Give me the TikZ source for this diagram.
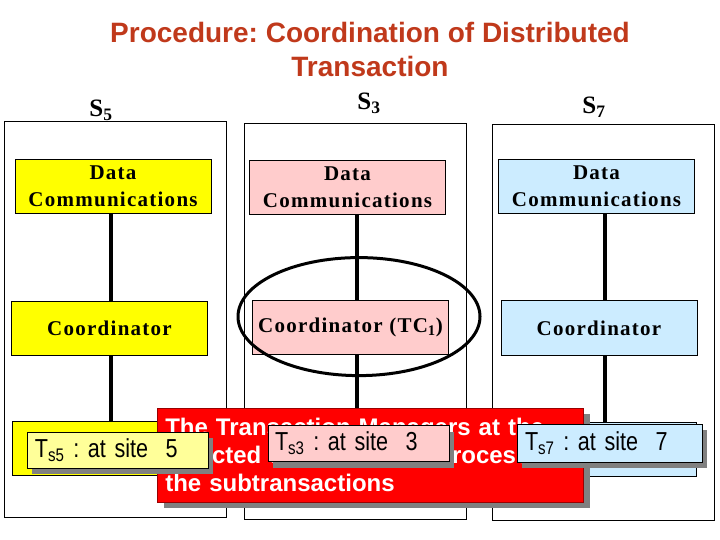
\documentclass[tikz,border=0pt]{standalone}
\usepackage{fontspec}
\setmainfont{Liberation Serif}
\newfontfamily\arialfont{Liberation Sans}
\newfontfamily\narrowfont[FakeStretch=0.83]{Liberation Sans}
\newfontfamily\boxfont[LetterSpace=6]{Liberation Serif}
\usetikzlibrary{positioning,shadows}
\definecolor{titlered}{HTML}{C0391B}
\definecolor{siteyellow}{HTML}{FFFF00}
\definecolor{paleyellow}{HTML}{FFFF99}
\definecolor{palepink}{HTML}{FFCCCC}
\definecolor{paleblue}{HTML}{CCECFF}
\definecolor{shadowgrey}{HTML}{808080}
\frenchspacing

\begin{document}
\begin{tikzpicture}[x=1bp,y=-1bp,
			site/.style={draw=black,fill=white,line width=0.8bp,minimum width=222bp,minimum height=396bp,inner sep=0pt},
			sitelabel/.style={inner sep=0pt,font=\bfseries\fontsize{25bp}{25bp}\selectfont},
			comm/.style={draw=black,line width=0.6bp,minimum width=196bp,minimum height=54bp,inner sep=0pt,align=center,font=\boxfont\bfseries\fontsize{21bp}{27bp}\selectfont},
			tm/.style={draw=black,line width=0.6bp,minimum width=195bp,minimum height=54bp,inner sep=0pt},
			tsbox/.style={draw=black,line width=0.6bp,minimum height=36bp,inner xsep=8bp,inner ysep=0pt,align=left,font=\narrowfont\fontsize{26bp}{28bp}\selectfont,
				drop shadow={shadow xshift=5bp,shadow yshift=-6bp,fill=shadowgrey,opacity=1}},
			note/.style={draw=red!60!black,line width=0.6bp,fill=red,text=white,inner xsep=8bp,inner ysep=0pt,text width=410bp,minimum height=94bp,align=left,
				font=\arialfont\bfseries\fontsize{24bp}{28bp}\selectfont,
				drop shadow={shadow xshift=7bp,shadow yshift=-6bp,fill=shadowgrey,opacity=1}},
			link/.style={line width=3.5bp},
			ring/.style={line width=3bp}
			]
			\useasboundingbox (0,0) rectangle (720,540);
			\node[font=\arialfont\bfseries\fontsize{28bp}{34bp}\selectfont,text=titlered,align=center] (title) at (370,49) {Procedure: Coordination of Distributed\\ Transaction};
			% the three sites
			\node[site] (site5) at (115,319.5) {};
			\node[site] (site3) at (355,321) {};
			\node[site] (site7) at (603.5,322) {};
			\node[sitelabel] (lab5) at (101,110) {S\textsubscript{5}};
			\node[sitelabel] (lab3) at (369,103) {S\textsubscript{3}};
			\node[sitelabel] (lab7) at (594,107) {S\textsubscript{7}};
			% data communications and coordinators
			\node[comm,fill=siteyellow] (dc5) at (113,186) {Data\\ Communications};
			\node[comm,fill=palepink] (dc3) at (347.5,187) {Data\\ Communications};
			\node[comm,fill=paleblue] (dc7) at (596.5,186) {Data\\ Communications};
			\node[comm,fill=siteyellow] (co5) [below=88bp of dc5,xshift=-3.5bp] {Coordinator};
			\node[comm,fill=palepink] (co3) [below=86bp of dc3,xshift=3bp] {Coordinator (TC\textsubscript{1})};
			\node[comm,fill=paleblue,minimum height=55bp] (co7) [below=87bp of dc7,xshift=2.5bp] {Coordinator};
			\node[tm,fill=siteyellow] (tm5) [below=65bp of co5] {};
			\node[tm,fill=paleblue] (tm7) [below=66bp of co7] {};
			\draw[link] ([xshift=-2bp]dc5.south) -- ([xshift=-2bp]dc5.south |- co5.north);
			\draw[link] ([xshift=1.5bp]co5.south) -- ([xshift=1.5bp]co5.south |- tm5.north);
			\draw[link] ([xshift=9.5bp]dc3.south) -- ([xshift=9.5bp]dc3.south |- co3.north);
			\draw[link] ([xshift=8.5bp]dc7.south) -- ([xshift=8.5bp]dc7.south |- co7.north);
			\draw[link] ([xshift=6bp]co7.south) -- ([xshift=6bp]co7.south |- tm7.north);
			\draw[ring] (co3) ++(8.5,-11) ellipse [x radius=121bp,y radius=59bp];
			% the note and the subtransactions
			\node[note,anchor=north west] (msg) at (157,408) {The Transaction Managers at the\\ selected sites will then process\\ the subtransactions};
			\draw[link] ([xshift=6.5bp]co3.south) -- ([xshift=6.5bp]co3.south |- msg.north);
			\node[tsbox,fill=paleyellow,text width=165bp] (ts5) at (117.5,450) {T\textsubscript{s5} : at site\ \ 5};
			\node[tsbox,fill=palepink,text width=167bp,inner xsep=7bp] (ts3) at (358.5,443.5) {T\textsubscript{s3} :\ at site\ \ 3};
			\node[tsbox,fill=paleblue,text width=169bp,minimum height=38bp] (ts7) at (609.5,443) {T\textsubscript{s7} : at site\ \ 7};
		\end{tikzpicture}
\end{document}
